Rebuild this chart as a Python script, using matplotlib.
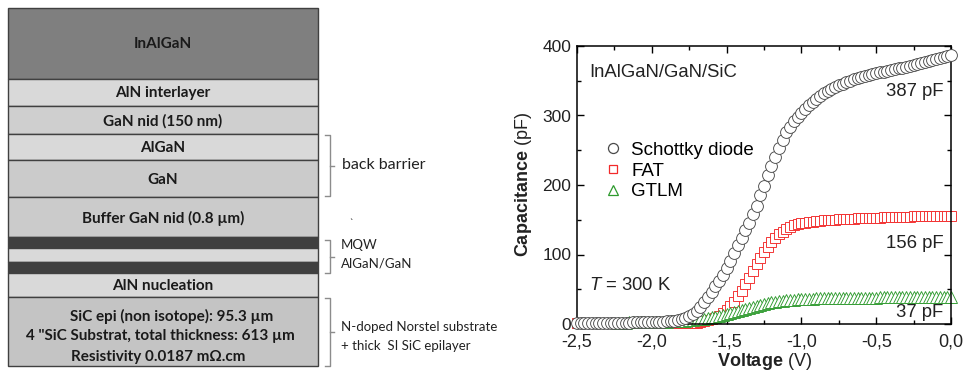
import numpy as np
import matplotlib
matplotlib.use("Agg")
import matplotlib.pyplot as plt
from matplotlib.patches import Rectangle
from matplotlib.ticker import FuncFormatter, MultipleLocator

# ---- layer stack (left) ----
layer_names = ["InAlGaN", "AlN interlayer", "GaN nid (150 nm)", "AlGaN", "GaN",
               "Buffer GaN nid (0.8 \u00b5m)", "", "", "", "AlN nucleation", ""]
layer_tops = [8, 79, 106, 134, 160, 197, 237, 248, 262, 273, 297]
layer_bottom = 366
layer_colors = ["#7f7f7f", "#d9d9d9", "#cfcfcf", "#d9d9d9", "#cbcbcb",
                "#cbcbcb", "#3f3f3f", "#d9d9d9", "#3f3f3f", "#d9d9d9", "#c4c4c4"]
sic_lines = ["SiC epi (non isotope): 95.3 \u00b5m",
             "4 \"SiC Substrat, total thickness: 613 \u00b5m",
             "Resistivity 0.0187 m\u03a9.cm"]

# ---- C-V data (right), sweep step 25 mV ----
voltage = [-2.500, -2.475, -2.450, -2.425, -2.400, -2.375, -2.350, -2.325, -2.300, -2.275,
           -2.250, -2.225, -2.200, -2.175, -2.150, -2.125, -2.100, -2.075, -2.050, -2.025,
           -2.000, -1.975, -1.950, -1.925, -1.900, -1.875, -1.850, -1.825, -1.800, -1.775,
           -1.750, -1.725, -1.700, -1.675, -1.650, -1.625, -1.600, -1.575, -1.550, -1.525,
           -1.500, -1.475, -1.450, -1.425, -1.400, -1.375, -1.350, -1.325, -1.300, -1.275,
           -1.250, -1.225, -1.200, -1.175, -1.150, -1.125, -1.100, -1.075, -1.050, -1.025,
           -1.000, -0.975, -0.950, -0.925, -0.900, -0.875, -0.850, -0.825, -0.800, -0.775,
           -0.750, -0.725, -0.700, -0.675, -0.650, -0.625, -0.600, -0.575, -0.550, -0.525,
           -0.500, -0.475, -0.450, -0.425, -0.400, -0.375, -0.350, -0.325, -0.300, -0.275,
           -0.250, -0.225, -0.200, -0.175, -0.150, -0.125, -0.100, -0.075, -0.050, -0.025,
           0.000]

c_schottky = [1, 1, 1, 1, 1, 1, 1.5, 1.5, 1.5, 1.5,
              2, 2, 2, 2, 2, 2.5, 2.5, 2.5, 2.5, 3,
              3, 3, 3.5, 3.5, 4, 4.5, 5, 6, 7, 8.5,
              11, 14, 19, 25, 32, 39, 46, 54, 62, 71,
              80, 91, 102, 113, 124, 135, 146, 158, 170, 185,
              199, 214, 228, 241, 253, 265, 276, 284, 292, 298,
              304, 310, 315, 320, 324, 328, 332, 335, 338, 341,
              344, 346, 348, 350, 352, 353.5, 355, 356.5, 358, 359.5,
              361, 362, 363, 364.5, 366, 367, 368, 369, 370, 371,
              372, 373.5, 375, 376.5, 378, 379.5, 381, 382.5, 384, 385.5,
              387]

c_fat = [1, 1, 1, 1, 1, 1, 1, 1, 1, 1,
         1, 1, 1, 1, 1, 1, 1, 1, 1, 1,
         1, 1, 1, 1, 1, 1, 1, 1, 1, 1.5,
         1.5, 2, 2, 3, 4, 5.5, 7, 9, 12, 16,
         20, 26, 32, 40, 48, 57, 66, 76, 86, 95,
         104, 111, 118, 124, 129, 133, 137, 140, 142, 143.5,
         145, 146, 146.5, 147, 148, 148.5, 149, 149.5, 150, 150.3,
         150.6, 150.8, 151, 151.3, 151.5, 151.8, 152, 152.3, 152.5, 152.8,
         153, 153.2, 153.5, 153.8, 154, 154.1, 154.2, 154.4, 154.5, 154.6,
         154.8, 154.9, 155, 155.1, 155.2, 155.4, 155.5, 155.6, 155.8, 155.9,
         156]

gtlm_start = 11  # GTLM sweep starts at -2.225 V
c_gtlm = [2, 2, 2, 2.5, 2.5, 2.5, 3, 3, 3,
          3, 3, 3.5, 3.5, 3.5, 4, 4, 4, 4.5, 5,
          5.5, 6, 6.5, 7, 7.5, 8.5, 9.5, 10.5, 11.5, 13,
          14, 15.5, 17, 18.5, 20, 21.5, 23, 24.5, 26, 27.5,
          29, 30, 31, 32, 33, 33.5, 34, 34.5, 35, 35.5,
          36, 36.2, 36.4, 36.6, 36.8, 37, 37, 37.2, 37.3, 37.4,
          37.5, 37.6, 37.7, 37.8, 37.8, 37.9, 38,
          38, 38, 38.1, 38.1, 38.2, 38.2, 38.2, 38.3, 38.3, 38.3,
          38.4, 38.4, 38.4, 38.5, 38.5, 38.5, 38.5, 38.6, 38.6, 38.6,
          38.7, 38.7, 38.7, 38.8]

W, H = 965, 373
plt.rcParams['mathtext.fontset'] = 'custom'
plt.rcParams['mathtext.rm'] = 'Liberation Sans'
plt.rcParams['mathtext.bf'] = 'Liberation Sans:bold'
plt.rcParams['mathtext.it'] = 'Liberation Sans:italic'

fig = plt.figure(figsize=(W / 100, H / 100), dpi=100)

# background axes in pixel coordinates for the stack drawing
bg = fig.add_axes([0, 0, 1, 1])
bg.set_xlim(0, W)
bg.set_ylim(H, 0)
bg.axis('off')

x0, x1 = 8, 318
bottoms = layer_tops[1:] + [layer_bottom]
for name, top, bot, col in zip(layer_names, layer_tops, bottoms, layer_colors):
    bg.add_patch(Rectangle((x0, top), x1 - x0, bot - top, facecolor=col,
                           edgecolor='#404040', linewidth=1.0))
    if name:
        bg.text((x0 + x1) / 2, (top + bot) / 2 + 1, name, ha='center', va='center',
                fontsize=11, fontweight='bold', family='Lato', color='#1a1a1a')

for txt, yy, xx in zip(sic_lines, [316, 336, 357], [172, 160, 158]):
    bg.text(xx, yy, txt, ha='center', va='center', fontsize=11,
            fontweight='bold', family='Lato', color='#1a1a1a')

def bracket(ytop, ybot, xv=330):
    kw = dict(color='#8c8c8c', linewidth=1.0)
    bg.plot([xv - 5, xv, xv, xv - 5], [ytop, ytop, ybot, ybot], **kw)
    ym = (ytop + ybot) / 2
    bg.plot([xv, xv + 4], [ym, ym], **kw)

bracket(135, 196)
bracket(240, 273)
bracket(298, 366)
note_kw = dict(ha='left', va='center', family='Lato', color='#222222')
bg.text(342, 165, "back barrier", fontsize=11.5, **note_kw)
bg.text(349, 224, "`", fontsize=7, **note_kw)
bg.text(341, 245, "MQW", fontsize=9.5, **note_kw)
bg.text(341, 263, "AlGaN/GaN", fontsize=9.5, **note_kw)
bg.text(341, 327, "N-doped Norstel substrate", fontsize=9.5, **note_kw)
bg.text(341, 346, "+ thick  SI SiC epilayer", fontsize=9.5, **note_kw)

# ---- C-V plot ----
ax = fig.add_axes([577 / W, (H - 324) / H, (951 - 577) / W, (324 - 46) / H])
ax.patch.set_alpha(0)

v = np.array(voltage)
ax.plot(v, c_schottky, linestyle='none', marker='o', markersize=8.5,
        markerfacecolor='white', markeredgecolor='#4a4a4a', markeredgewidth=0.65,
        label='Schottky diode', clip_on=False, zorder=3)
ax.plot(v, c_fat, linestyle='none', marker='s', markersize=7.3,
        markerfacecolor='white', markeredgecolor='#f22a2a', markeredgewidth=0.65,
        label='FAT', clip_on=False, zorder=2)
ax.plot(v[gtlm_start:], c_gtlm, linestyle='none', marker='^', markersize=8,
        markerfacecolor='white', markeredgecolor='#2e9a2e', markeredgewidth=0.65,
        label='GTLM', clip_on=False, zorder=2)

ax.set_xlim(-2.5, 0.0)
ax.set_ylim(0, 400)
ax.xaxis.set_major_locator(MultipleLocator(0.5))
ax.xaxis.set_minor_locator(MultipleLocator(0.25))
ax.yaxis.set_major_locator(MultipleLocator(100))
ax.yaxis.set_minor_locator(MultipleLocator(50))
ax.xaxis.set_major_formatter(FuncFormatter(lambda x, p: f"{x:.1f}".replace('.', ',').replace('-0,0', '0,0')))
ax.tick_params(which='both', direction='in', top=True, right=True, width=1.0, labelcolor='#222222')
ax.tick_params(which='major', length=5)
ax.tick_params(which='minor', length=3)
ax.tick_params(axis='x', which='major', labelsize=13, pad=7)
ax.tick_params(axis='y', which='major', labelsize=12.5, pad=4)
for lab in ax.get_xticklabels() + ax.get_yticklabels():
    lab.set_family('Liberation Sans')
for s in ax.spines.values():
    s.set_linewidth(1.1)

ax.set_ylabel(r"$\mathbf{Capacitance}$ (pF)", fontsize=13, family='Liberation Sans',
              labelpad=6, color='#222222')
ax.set_xlabel(r"$\mathbf{Voltage}$ (V)", fontsize=13, family='Liberation Sans',
              labelpad=0, color='#222222')

txt_kw = dict(transform=ax.transData, family='Liberation Sans', fontsize=13.3, color='#222222')
ax.text(-2.42, 362, "InAlGaN/GaN/SiC", ha='left', va='center', **txt_kw)
ax.text(-0.05, 334, "387 pF", ha='right', va='center', **txt_kw)
ax.text(-0.05, 116, "156 pF", ha='right', va='center', **txt_kw)
ax.text(-0.05, 16, "37 pF", ha='right', va='center', **txt_kw)
ax.text(-2.42, 56, r"$\mathit{T}$ = 300 K", ha='left', va='center', **txt_kw)

leg = ax.legend(loc='upper left', bbox_to_anchor=(0.045, 0.69), frameon=False,
                prop={'family': 'Liberation Sans', 'size': 13.5}, handletextpad=0.5,
                labelspacing=0.2, borderpad=0, handlelength=1.0, markerscale=0.85)
for h in leg.legend_handles:
    h.set_markeredgewidth(0.9)

fig.savefig("out.png", dpi=100)
